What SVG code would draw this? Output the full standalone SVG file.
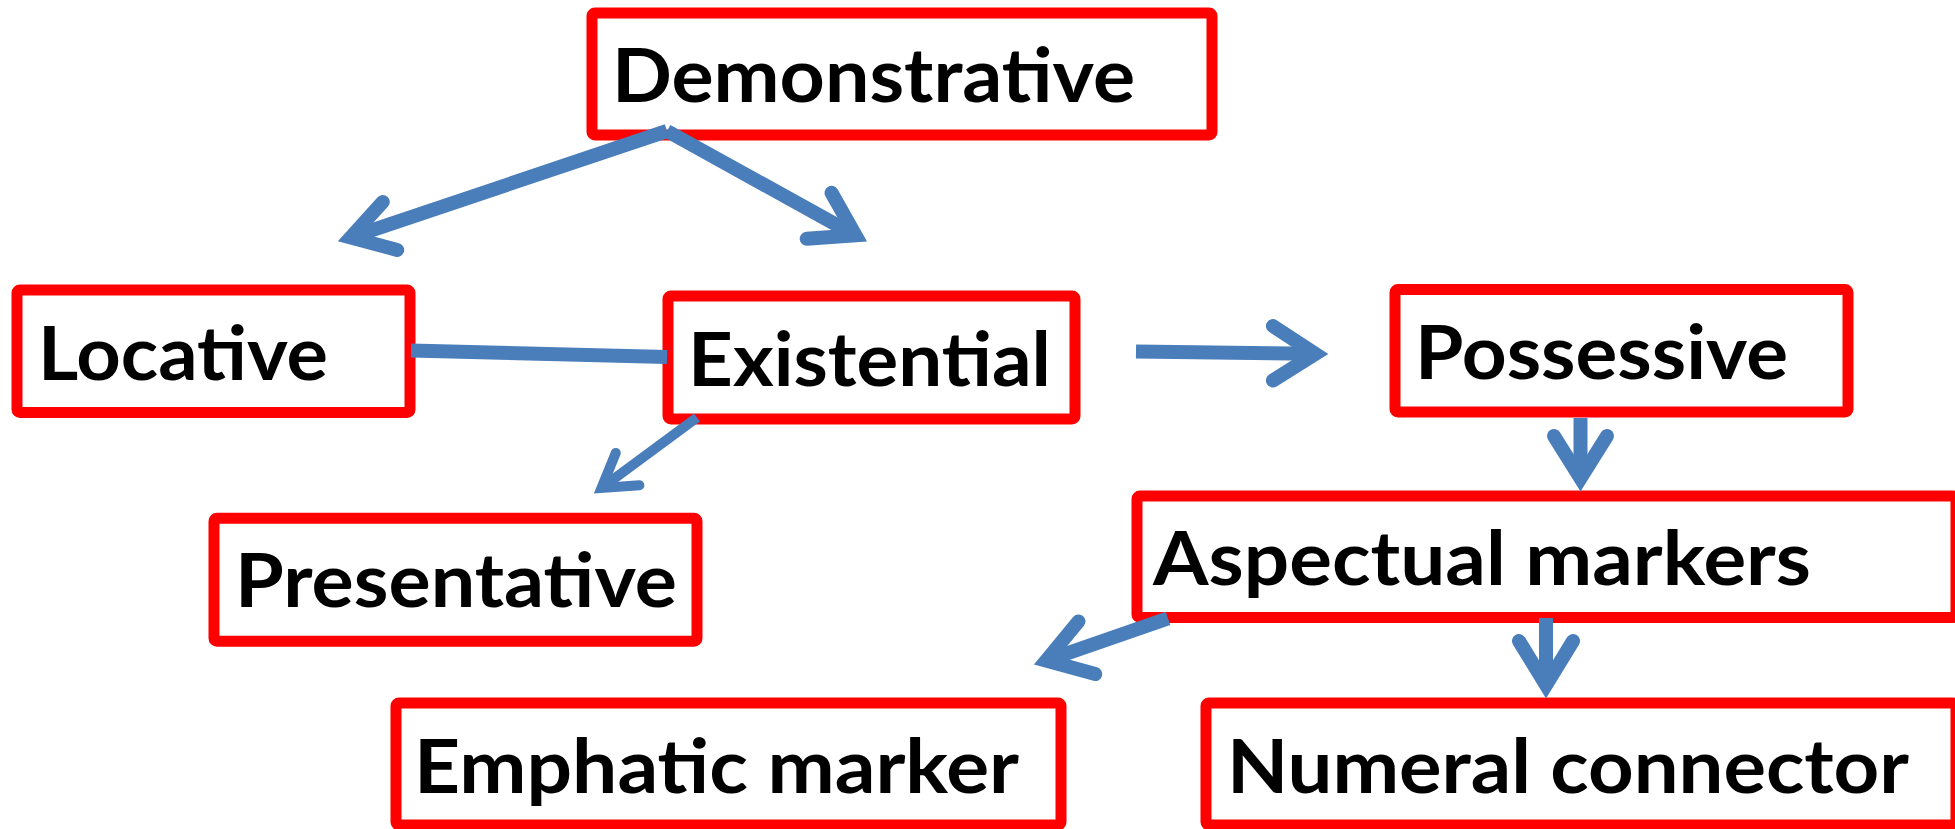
<svg xmlns="http://www.w3.org/2000/svg" width="1955" height="829" viewBox="0 0 1955 829">
<style>
.box{fill:#FFFFFF;stroke:#FF0000;stroke-width:11;stroke-linejoin:round}
.lbl{font-family:"Lato","Open Sans","DejaVu Sans",sans-serif;font-weight:700;font-size:75px;fill:#000000}
.shaft{fill:none;stroke:#4A7EBB;stroke-width:14;stroke-linecap:butt}
.head{fill:none;stroke:#4A7EBB;stroke-width:14;stroke-linecap:round;stroke-linejoin:miter;stroke-miterlimit:6}
.thin{stroke-width:10}
</style>
<rect width="1955" height="829" fill="#FFFFFF"/>
<g id="node-demonstrative">
<rect class="box" x="592" y="13" width="620" height="122" rx="3"/>
<text class="lbl" x="612" y="101.7" textLength="523" lengthAdjust="spacingAndGlyphs">Demonstrative</text>
</g>
<g id="node-locative">
<rect class="box" x="17" y="290" width="393" height="122.5" rx="3"/>
<text class="lbl" x="38" y="380" textLength="290" lengthAdjust="spacingAndGlyphs">Locative</text>
</g>
<g id="node-existential">
<rect class="box" x="668" y="296" width="407" height="123" rx="3"/>
<text class="lbl" x="688" y="386" textLength="363" lengthAdjust="spacingAndGlyphs">Existential</text>
</g>
<g id="node-possessive">
<rect class="box" x="1395" y="289.5" width="453" height="122.5" rx="3"/>
<text class="lbl" x="1415" y="379.3" textLength="373" lengthAdjust="spacingAndGlyphs">Possessive</text>
</g>
<g id="node-presentative">
<rect class="box" x="214" y="518.3" width="483" height="123" rx="3"/>
<text class="lbl" x="235" y="607.3" textLength="442" lengthAdjust="spacingAndGlyphs">Presentative</text>
</g>
<g id="node-aspectual">
<rect class="box" x="1137" y="496" width="819" height="121.5" rx="3"/>
<text class="lbl" x="1153" y="585" textLength="658" lengthAdjust="spacingAndGlyphs">Aspectual markers</text>
</g>
<g id="node-emphatic">
<rect class="box" x="396" y="703" width="665" height="122" rx="3"/>
<text class="lbl" x="414" y="792.7" textLength="605" lengthAdjust="spacingAndGlyphs">Emphatic marker</text>
</g>
<g id="node-numeral">
<rect class="box" x="1206" y="703" width="750" height="122" rx="3"/>
<text class="lbl" x="1227" y="792.7" textLength="682" lengthAdjust="spacingAndGlyphs">Numeral connector</text>
</g>
<g id="connectors">
<!-- Demonstrative -> Locative -->
<path class="shaft" d="M667,131 L350.7,237.4"/>
<path class="head" d="M382.8,201.9 L350.7,237.4 L397.2,249.9"/>
<!-- Demonstrative -> Existential -->
<path class="shaft" d="M667,131 L855.5,235.3"/>
<path class="head" d="M831.5,192.8 L855.5,235.3 L806.7,238.8"/>
<!-- Locative - Existential -->
<path class="shaft" d="M411,350.5 L667,357"/>
<!-- Existential -> Possessive -->
<path class="shaft" d="M1136,351.5 L1315.4,353.8"/>
<path class="head" d="M1272.9,326 L1315.4,353.8 L1272.9,380.5"/>
<!-- Existential -> Presentative -->
<path class="shaft thin" d="M697,417.5 L601.5,488"/>
<path class="head thin" d="M615.8,452.9 L601.5,488 L639.4,485.3"/>
<!-- Possessive -> Aspectual markers -->
<path class="shaft" d="M1580.5,418 L1580.5,478.4"/>
<path class="head" d="M1554,436 L1580.5,478.4 L1607,436"/>
<!-- Aspectual markers -> Numeral connector -->
<path class="shaft" d="M1546,618 L1546,685.1"/>
<path class="head" d="M1519,641 L1546,685.1 L1573,641"/>
<!-- Aspectual markers -> Emphatic marker -->
<path class="shaft" d="M1168,618.3 L1046.2,660.6"/>
<path class="head" d="M1078.5,621.4 L1046.2,660.6 L1095.3,674.1"/>
</g>
</svg>
